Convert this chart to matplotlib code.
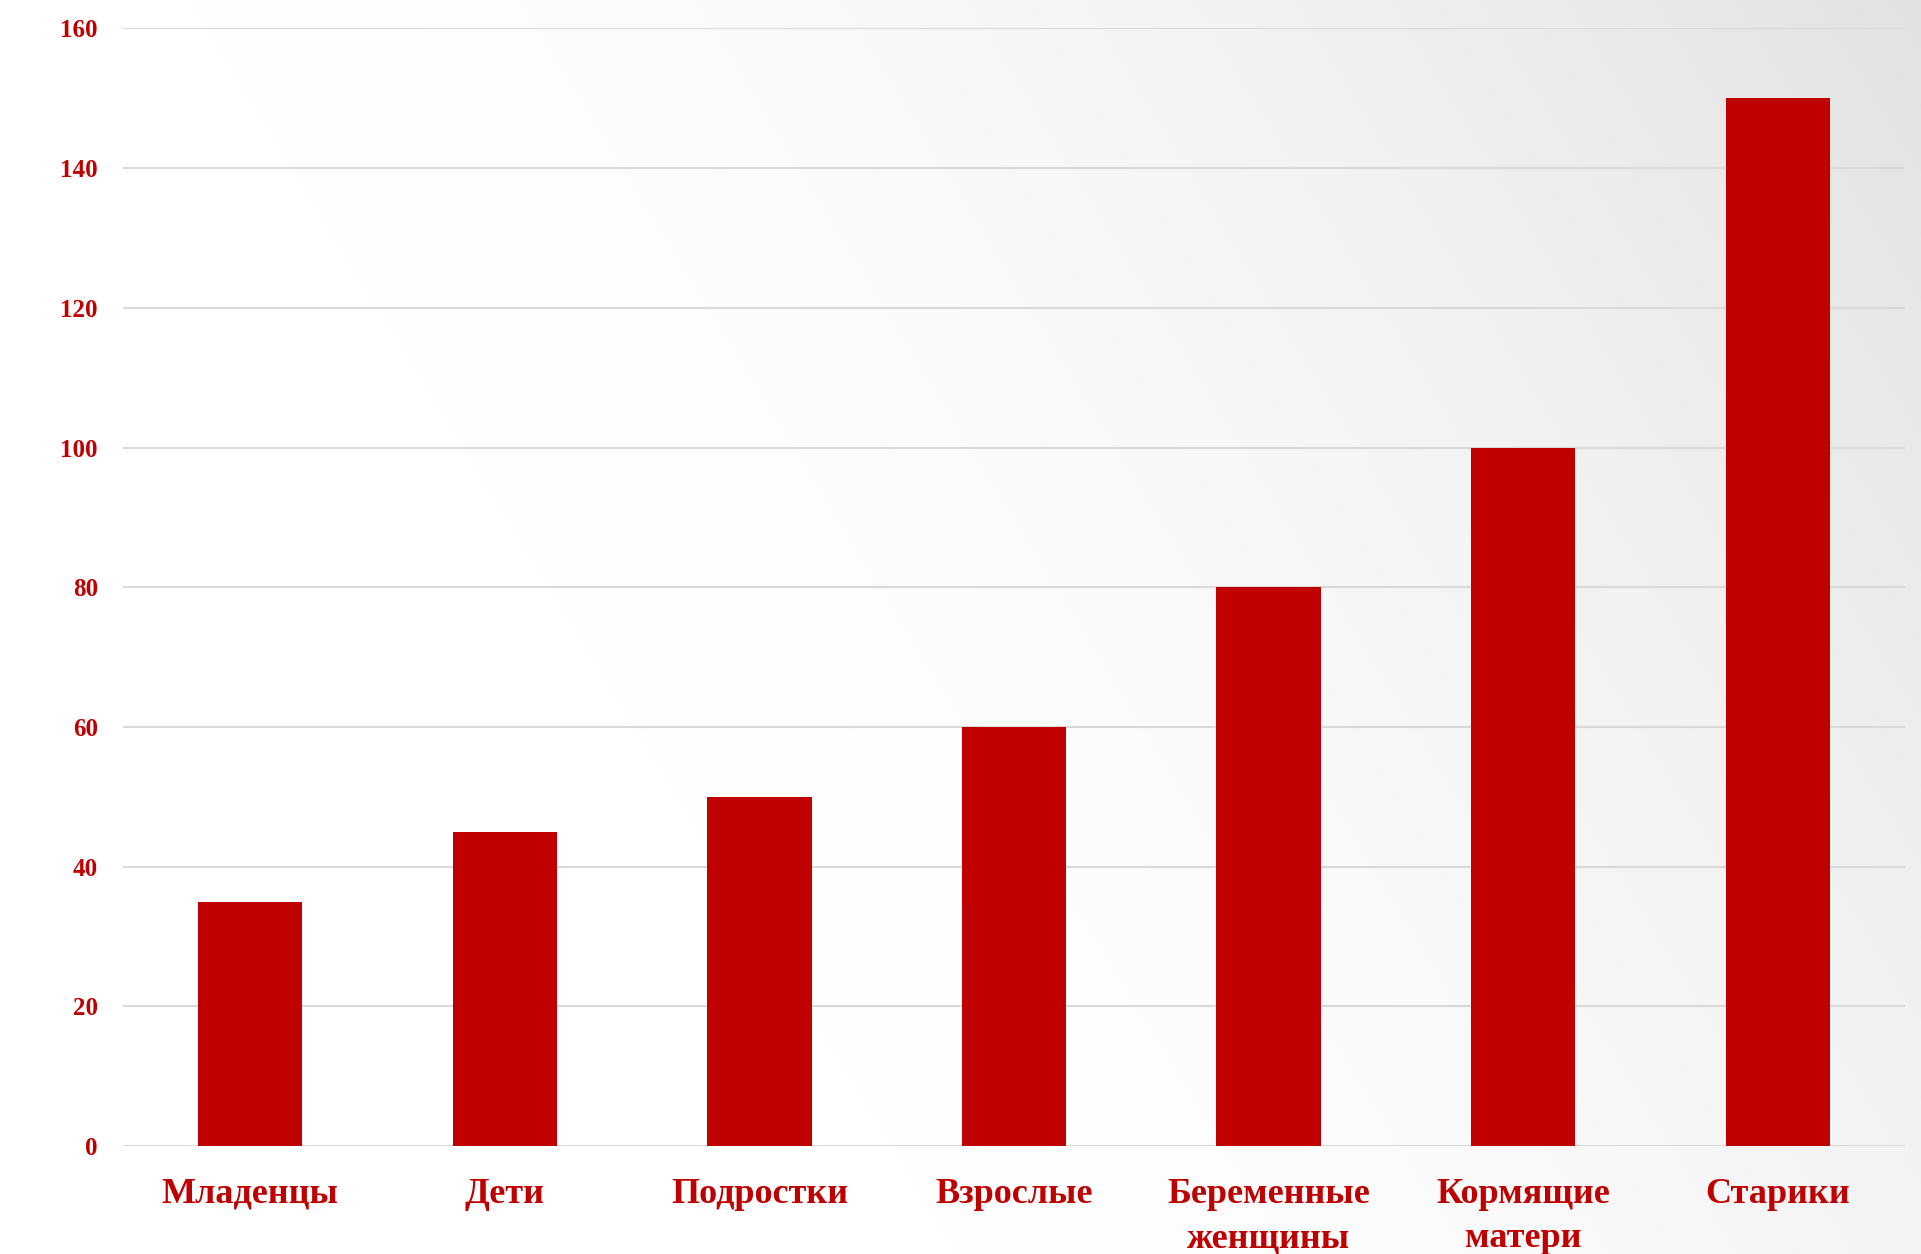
import numpy as np
import matplotlib
matplotlib.use("Agg")
import matplotlib.pyplot as plt

# data
categories = ["Младенцы", "Дети", "Подростки", "Взрослые",
              "Беременные\nженщины", "Кормящие\nматери", "Старики"]
values = [35, 45, 50, 60, 80, 100, 150]
yticks = [0, 20, 40, 60, 80, 100, 120, 140, 160]

RED = "#C00000"
W, H, DPI = 1921, 1254, 100

plt.rcParams["font.family"] = ["Liberation Serif", "DejaVu Serif"]
plt.rcParams["font.weight"] = "bold"

fig = plt.figure(figsize=(W / DPI, H / DPI), dpi=DPI)

# soft grey gradient: white toward lower-left, greyer toward the upper-right
xx, yy = np.meshgrid(np.linspace(0, 1, 480), np.linspace(1, 0, 320))
s = np.clip(xx + 0.4 * yy - 0.5, 0, None)
shade = 1 - 34 * s ** 1.6 / 255
bg = fig.add_axes([0, 0, 1, 1], zorder=-10)
bg.imshow(np.dstack([shade] * 3), aspect="auto", extent=[0, 1, 0, 1],
          interpolation="bilinear")
bg.axis("off")

ax = fig.add_axes([0.064, 0.0861, 0.9277, 0.8912])
ax.set_facecolor("none")
x = np.arange(len(categories))
ax.bar(x, values, width=0.41, color=RED, zorder=3)
ax.set_xlim(-0.5, len(categories) - 0.5)
ax.set_ylim(0, 160)
ax.set_yticks(yticks)
ax.yaxis.grid(True, color="#d9d9d9", lw=1.5, zorder=0)
ax.set_axisbelow(True)
for sp in ax.spines.values():
    sp.set_visible(False)
ax.tick_params(axis="both", length=0)
ax.tick_params(axis="y", pad=18, labelsize=18, labelcolor=RED)
ax.set_xticks(x)
ax.set_xticklabels(categories, fontsize=26, color=RED, linespacing=1.45)
ax.tick_params(axis="x", pad=23)

fig.savefig("out.png", dpi=DPI)
